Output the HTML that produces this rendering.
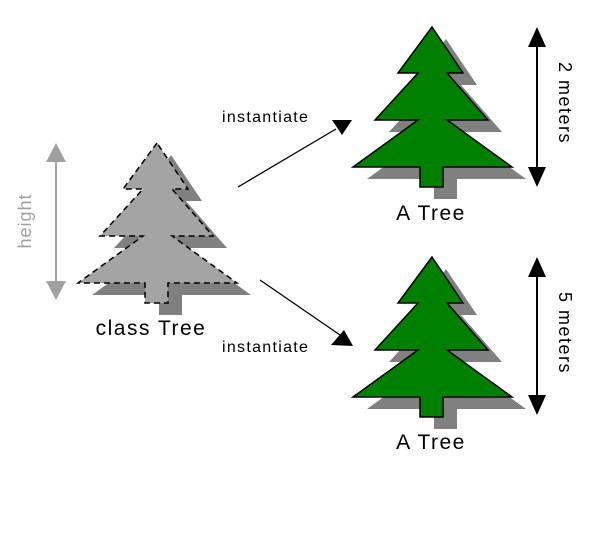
<!DOCTYPE html>
<html><head><style>
html,body{margin:0;padding:0;background:#fff;}
svg{display:block;}
text{font-family:"Liberation Sans",sans-serif;}
</style></head><body>
<svg width="601" height="534" viewBox="0 0 601 534" xmlns="http://www.w3.org/2000/svg">
<defs>
<path id="tr" d="M0,0 L-34,46 L-14,46 L-57,93 L-14,93 L-79,140 L-12,140 L-12,160 L11,160 L11,140 L80,140 L15,93 L56,93 L15,46 L31,46 Z"/>
</defs>
<!-- gray class tree -->
<use href="#tr" x="171" y="155" fill="#808080"/>
<use href="#tr" x="157" y="143" fill="#a4a4a4" stroke="#000" stroke-width="1.5" stroke-dasharray="6,4"/>
<!-- height arrow -->
<line x1="56" y1="155" x2="56" y2="288" stroke="#a0a0a0" stroke-width="2"/>
<polygon points="56,143 46,162 66,162" fill="#a0a0a0"/>
<polygon points="56,300 46,281 66,281" fill="#a0a0a0"/>
<text transform="translate(31,221) rotate(-90)" text-anchor="middle" font-size="18" letter-spacing="1" fill="#a0a0a0">height</text>
<text x="151" y="335" text-anchor="middle" font-size="21" letter-spacing="1.5" fill="#000">class Tree</text>
<!-- green trees -->
<use href="#tr" x="446" y="39" fill="#808080"/>
<use href="#tr" x="432" y="27" fill="#008000" stroke="#000" stroke-width="1.5"/>
<use href="#tr" x="446" y="269" fill="#808080"/>
<use href="#tr" x="432" y="257" fill="#008000" stroke="#000" stroke-width="1.5"/>
<text x="431" y="220" text-anchor="middle" font-size="21" letter-spacing="1.5" fill="#000">A Tree</text>
<text x="431" y="449" text-anchor="middle" font-size="21" letter-spacing="1.5" fill="#000">A Tree</text>
<!-- meter arrows -->
<line x1="537" y1="40" x2="537" y2="172" stroke="#000" stroke-width="2"/>
<polygon points="537,27 528,47 546,47" fill="#000"/>
<polygon points="537,187 528,167 546,167" fill="#000"/>
<text transform="translate(559,103) rotate(90)" text-anchor="middle" font-size="18" letter-spacing="1.5" fill="#000">2 meters</text>
<line x1="537" y1="268" x2="537" y2="402" stroke="#000" stroke-width="2"/>
<polygon points="537,257 528,277 546,277" fill="#000"/>
<polygon points="537,415 528,395 546,395" fill="#000"/>
<text transform="translate(559,333) rotate(90)" text-anchor="middle" font-size="18" letter-spacing="1.5" fill="#000">5 meters</text>
<!-- instantiate arrows -->
<line x1="238" y1="187" x2="336" y2="129" stroke="#000" stroke-width="1.3"/>
<polygon points="332,120 352,120 342,135" fill="#000"/>
<text x="222" y="122" font-size="16" letter-spacing="1.3" fill="#000">instantiate</text>
<line x1="260" y1="280" x2="340" y2="335" stroke="#000" stroke-width="1.3"/>
<polygon points="331,345 353,346 344,330" fill="#000"/>
<text x="222" y="352" font-size="16" letter-spacing="1.3" fill="#000">instantiate</text>
</svg>
</body></html>
